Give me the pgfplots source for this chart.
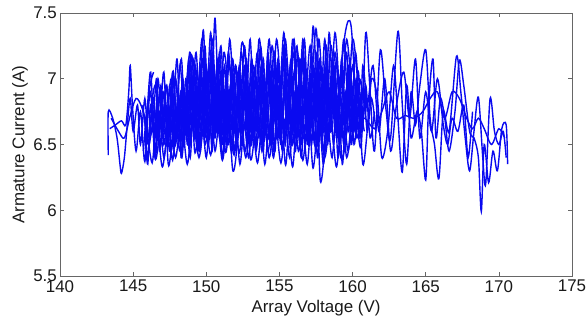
\documentclass[border=0pt]{standalone}
\usepackage{fontspec}
\setmainfont{Liberation Sans}
\usepackage{pgfplots}
\pgfplotsset{compat=1.18}
\definecolor{mblue}{RGB}{10,10,240}
\tikzset{mline/.style={draw=mblue, line width=1.4bp, smooth, tension=0.5, mark=none, solid}}
\begin{document}
\begin{tikzpicture}
\useasboundingbox (-60bp,-46bp) rectangle (527bp,276bp);
\begin{axis}[
 at={(0,0)}, anchor=south west,
 scale only axis, width=512bp, height=263bp,
 xmin=140, xmax=175, ymin=5.5, ymax=7.5,
 xtick={140,145,150,155,160,165,170,175},
 ytick={5.5,6,6.5,7,7.5},
 tick align=inside, major tick length=4bp,
 axis line style={draw=black!60, line width=0.8bp},
 every tick/.style={draw=black!60, line width=0.6bp},
 /pgf/number format/assume math mode=true,
 tick label style={font=\fontsize{17}{17}\selectfont, text=black!90},
 xticklabel style={anchor=north, inner sep=0pt, yshift=-4bp},
 yticklabel style={anchor=east, inner sep=0pt, xshift=-3bp},
 xlabel={Array Voltage (V)}, ylabel={Armature Current (A)},
 label style={font=\fontsize{17}{17}\selectfont, text=black!90, inner sep=0pt},
 xlabel style={at={(axis description cs:0.5,0)}, anchor=base, yshift=-36bp},
 ylabel style={at={(axis description cs:-0.0625,0.5)}, anchor=south},
]
% left sparse part
\addplot[mline] coordinates {(143.3,6.42) (143.3,6.75) (143.6,6.7) (143.9,6.55) (144.1,6.35) (144.2,6.28) (144.4,6.4) (144.6,6.65) (144.8,6.85) (145.0,6.6) (145.3,6.8) (145.5,6.5) (145.8,6.85) (146.0,6.5)};
\addplot[mline] coordinates {(143.4,6.62) (143.8,6.65) (144.2,6.68) (144.5,6.65) (144.7,6.9) (144.8,7.1) (144.95,6.8) (145.2,6.45) (145.5,6.75) (145.8,6.37) (146.1,6.9) (146.4,7.05)};
\addplot[mline] coordinates {(143.5,6.7) (144.0,6.6) (144.4,6.55) (144.8,6.72) (145.2,6.85) (145.6,6.78) (146.0,6.6)};
% dense passes
\addplot[mline] coordinates {(145.8,6.6) (146.0,6.35) (146.2,6.8) (146.5,6.55) (146.7,7.0) (147.0,6.6) (147.2,6.85) (147.5,6.45) (147.7,7.05) (148.0,6.7) (148.3,6.9) (148.5,6.5) (148.8,7.1) (149.1,6.65) (149.3,6.95) (149.6,6.45) (149.9,7.15) (150.1,6.8) (150.4,7.0) (150.6,6.55) (150.9,7.2) (151.2,6.7) (151.4,6.95) (151.7,6.5) (152.0,7.1) (152.3,6.75) (152.5,7.05) (152.8,6.5) (153.1,7.15) (153.4,6.65) (153.6,6.95) (153.9,6.45) (154.2,7.2) (154.4,6.8) (154.7,7.1) (155.0,6.55) (155.3,7.25) (155.5,6.7) (155.8,7.0) (156.1,6.45) (156.4,7.15) (156.6,6.75) (156.9,7.05) (157.2,6.5) (157.5,7.2) (157.8,6.6) (158.0,6.95) (158.3,6.5) (158.6,7.15) (158.9,6.7) (159.1,7.0) (159.4,6.55) (159.7,7.1) (160.0,6.75) (160.3,6.95) (160.6,6.6) (160.9,6.9)};
\addplot[mline] coordinates {(161.0,6.75) (160.7,7.1) (160.5,6.55) (160.2,6.85) (159.9,6.5) (159.6,7.2) (159.3,6.75) (159.0,6.4) (158.8,6.9) (158.5,7.25) (158.2,6.6) (157.9,6.85) (157.6,6.4) (157.3,7.1) (157.0,6.65) (156.8,6.9) (156.5,6.5) (156.2,7.25) (155.9,6.8) (155.7,6.55) (155.4,7.05) (155.1,6.6) (154.9,6.95) (154.6,6.45) (154.3,7.1) (154.0,6.7) (153.8,6.55) (153.5,7.2) (153.2,6.75) (153.0,6.5) (152.7,7.0) (152.4,6.6) (152.2,6.85) (151.9,6.45) (151.6,7.1) (151.3,6.8) (151.1,6.5) (150.8,7.0) (150.5,6.65) (150.3,7.15) (150.0,6.6) (149.8,6.85) (149.5,6.45) (149.2,7.05) (148.9,6.75) (148.7,6.5) (148.4,7.0) (148.1,6.6) (147.9,6.8) (147.6,6.45) (147.3,6.95) (147.0,6.55) (146.8,6.75) (146.5,6.4) (146.2,6.9) (146.0,6.7)};
\addplot[mline] coordinates {(146.1,6.5) (146.4,6.85) (146.6,6.6) (146.9,6.95) (147.1,6.5) (147.4,6.8) (147.6,6.6) (147.9,7.0) (148.2,6.55) (148.4,6.85) (148.7,6.6) (149.0,7.05) (149.2,6.55) (149.5,6.9) (149.7,6.65) (150.0,7.1) (150.2,6.55) (150.5,6.9) (150.7,6.6) (151.0,7.05) (151.3,6.55) (151.5,6.85) (151.8,6.6) (152.1,7.05) (152.3,6.6) (152.6,6.9) (152.9,6.55) (153.2,7.05) (153.4,6.6) (153.7,6.9) (154.0,6.55) (154.2,7.1) (154.5,6.6) (154.8,6.95) (155.1,6.5) (155.4,7.1) (155.6,6.65) (155.9,6.95) (156.2,6.55) (156.4,7.1) (156.7,6.6) (157.0,6.95) (157.3,6.55) (157.5,7.05) (157.8,6.6) (158.1,7.1) (158.3,6.55) (158.6,6.9) (158.9,6.6) (159.2,7.05) (159.5,6.65) (159.8,6.9) (160.1,6.6) (160.4,6.95)};
\addplot[mline] coordinates {(160.5,6.7) (160.2,7.2) (159.9,6.6) (159.6,6.85) (159.3,6.35) (159.0,7.0) (158.7,6.7) (158.4,7.35) (158.1,6.5) (157.8,6.22) (157.6,6.8) (157.3,7.4) (157.0,6.6) (156.8,7.0) (156.5,6.4) (156.2,6.9) (155.9,7.3) (155.6,6.6) (155.4,6.35) (155.1,6.9) (154.8,7.3) (154.5,6.75) (154.2,6.45) (153.9,6.95) (153.6,7.3) (153.3,6.6) (153.0,6.4) (152.7,7.1) (152.4,7.25) (152.1,6.5) (151.8,6.31) (151.5,6.9) (151.2,7.2) (150.9,6.7) (150.6,7.46) (150.4,6.9) (150.1,6.5) (149.8,7.37) (149.5,6.7) (149.2,6.45) (148.9,7.2) (148.6,6.8) (148.3,6.4) (148.0,7.15) (147.7,6.6) (147.4,6.35) (147.1,7.05) (146.8,6.6) (146.5,6.4) (146.2,7.05) (145.9,6.7) (145.6,6.8)};
\addplot[mline] coordinates {(145.7,6.75) (146.0,6.55) (146.3,6.75) (146.5,6.45) (146.8,6.9) (147.0,6.7) (147.3,6.55) (147.5,6.95) (147.8,6.5) (148.1,6.8) (148.3,6.4) (148.6,7.0) (148.9,6.55) (149.1,6.85) (149.4,6.5) (149.6,7.1) (149.9,6.55) (150.2,6.9) (150.4,6.45) (150.7,7.05) (151.0,6.6) (151.2,6.9) (151.5,6.5) (151.8,7.05) (152.0,6.65) (152.3,6.45) (152.6,7.1) (152.8,6.7) (153.1,6.5) (153.4,7.0) (153.6,6.55) (153.9,7.15) (154.1,6.6) (154.4,6.9) (154.7,6.45) (154.9,7.05) (155.2,6.65) (155.5,7.15) (155.8,6.5) (156.0,6.9) (156.3,6.6) (156.6,7.2) (156.9,6.5) (157.1,6.85) (157.4,6.55) (157.7,7.05) (157.9,6.5) (158.2,6.95) (158.5,6.65) (158.8,7.1) (159.0,6.55) (159.3,6.8) (159.6,6.6) (159.9,7.0) (160.2,6.6) (160.5,6.85)};
\addplot[mline] coordinates {(160.8,6.6) (160.4,6.8) (160.1,6.5) (159.8,7.0) (159.5,6.85) (159.2,6.6) (158.9,7.15) (158.6,6.6) (158.3,6.85) (158.0,6.45) (157.7,6.95) (157.4,6.7) (157.2,7.2) (156.9,6.75) (156.6,6.55) (156.3,6.95) (156.0,6.6) (155.8,7.15) (155.5,6.75) (155.2,6.5) (154.9,6.9) (154.6,7.2) (154.3,6.55) (154.1,6.8) (153.8,6.45) (153.5,6.85) (153.2,7.1) (152.9,6.65) (152.6,6.45) (152.4,6.95) (152.1,6.7) (151.8,7.15) (151.5,6.6) (151.3,6.45) (151.0,6.9) (150.7,6.6) (150.4,7.2) (150.2,6.75) (149.9,6.5) (149.6,6.95) (149.4,6.6) (149.1,7.15) (148.8,6.6) (148.5,6.85) (148.2,6.45) (147.9,6.75) (147.7,7.05) (147.4,6.6) (147.1,6.75) (146.8,6.45) (146.6,7.0) (146.3,6.6) (146.0,6.8) (145.7,6.45)};
\addplot[mline] coordinates {(146.4,6.8) (146.7,6.55) (147.0,6.9) (147.3,6.7) (147.6,7.0) (147.9,6.6) (148.2,7.1) (148.5,6.75) (148.8,7.15) (149.0,6.8) (149.3,7.2) (149.6,6.7) (149.9,7.25) (150.1,6.85) (150.4,7.3) (150.7,6.8) (150.9,7.1) (151.2,6.65) (151.5,7.2) (151.8,6.85) (152.0,7.1) (152.3,6.7) (152.6,7.25) (152.9,6.85) (153.1,7.15) (153.4,6.75) (153.7,7.25) (154.0,6.9) (154.3,7.3) (154.6,6.8) (154.9,7.15) (155.1,6.85) (155.4,7.3) (155.7,6.9) (156.0,7.2) (156.3,6.8) (156.6,7.3) (156.8,6.9) (157.1,7.25) (157.4,6.8) (157.7,7.3) (158.0,6.85) (158.2,7.25) (158.5,6.8) (158.8,7.2) (159.1,6.9) (159.4,7.3) (159.7,6.8) (160.0,7.1) (160.3,6.75)};
\addplot[mline] coordinates {(160.3,6.55) (160.0,6.8) (159.7,6.45) (159.4,6.7) (159.1,6.5) (158.9,6.75) (158.6,6.4) (158.3,6.65) (158.0,6.35) (157.7,6.75) (157.5,6.45) (157.2,6.7) (156.9,6.35) (156.6,6.65) (156.3,6.45) (156.0,6.75) (155.7,6.4) (155.4,6.7) (155.2,6.45) (154.9,6.75) (154.6,6.4) (154.3,6.65) (154.0,6.35) (153.7,6.7) (153.4,6.45) (153.2,6.75) (152.9,6.4) (152.6,6.65) (152.3,6.35) (152.0,6.7) (151.7,6.45) (151.4,6.75) (151.1,6.4) (150.9,6.7) (150.6,6.45) (150.3,6.75) (150.0,6.4) (149.7,6.7) (149.4,6.45) (149.1,6.75) (148.9,6.4) (148.6,6.7) (148.3,6.45) (148.0,6.7) (147.7,6.38) (147.4,6.65) (147.1,6.4) (146.8,6.7) (146.5,6.45) (146.3,6.75) (146.0,6.4) (145.8,6.7)};
\addplot[mline] coordinates {(146.2,6.75) (146.5,6.95) (146.8,6.7) (147.1,6.9) (147.3,6.65) (147.6,6.85) (147.9,7.0) (148.2,6.7) (148.4,6.95) (148.7,6.65) (149.0,6.95) (149.3,6.7) (149.5,7.0) (149.8,6.75) (150.1,7.05) (150.3,6.7) (150.6,7.0) (150.9,6.75) (151.1,7.05) (151.4,6.7) (151.7,6.95) (152.0,6.7) (152.2,7.05) (152.5,6.75) (152.8,7.0) (153.0,6.7) (153.3,7.05) (153.6,6.8) (153.8,7.05) (154.1,6.75) (154.4,7.05) (154.7,6.7) (154.9,7.1) (155.2,6.75) (155.5,7.0) (155.8,6.7) (156.0,7.05) (156.3,6.75) (156.6,7.1) (156.9,6.7) (157.1,7.0) (157.4,6.75) (157.7,7.05) (157.9,6.7) (158.2,7.0) (158.5,6.75) (158.7,7.05) (159.0,6.7) (159.3,7.0) (159.6,6.7) (159.9,6.95) (160.2,6.7) (160.6,6.9)};
\addplot[mline] coordinates {(160.6,6.75) (160.3,6.55) (160.0,6.85) (159.7,6.6) (159.5,6.9) (159.2,6.55) (158.9,6.85) (158.7,6.5) (158.4,6.9) (158.1,6.6) (157.8,6.85) (157.6,6.5) (157.3,6.8) (157.0,6.5) (156.8,6.9) (156.5,6.6) (156.2,6.85) (155.9,6.5) (155.6,6.9) (155.4,6.55) (155.1,6.8) (154.8,6.55) (154.6,6.9) (154.3,6.6) (154.0,6.85) (153.8,6.5) (153.5,6.8) (153.2,6.55) (152.9,6.9) (152.7,6.6) (152.4,6.8) (152.1,6.5) (151.9,6.85) (151.6,6.6) (151.3,6.85) (151.0,6.5) (150.8,6.8) (150.5,6.55) (150.2,6.85) (150.0,6.6) (149.7,6.8) (149.4,6.55) (149.2,6.85) (148.9,6.5) (148.6,6.8) (148.4,6.55) (148.1,6.85) (147.8,6.5) (147.5,6.75) (147.3,6.5) (147.0,6.8) (146.7,6.55) (146.4,6.65) (146.1,6.5)};
\addplot[mline] coordinates {(148.0,6.8) (148.3,7.15) (148.6,6.6) (149.0,7.18) (149.3,6.7) (149.7,7.3) (150.0,6.8) (150.3,7.35) (150.6,6.75) (151.0,7.25) (151.3,6.6) (151.6,7.3) (152.0,6.7) (152.4,7.2) (152.7,6.75) (153.0,7.3) (153.3,6.65) (153.7,7.2) (154.0,6.6) (154.5,7.25) (154.9,6.7) (155.3,7.35) (155.6,6.75) (156.0,7.3) (156.3,6.65) (156.7,7.3) (157.0,6.7) (157.5,7.38) (157.8,6.75) (158.1,7.3) (158.4,6.7) (158.8,7.35) (159.2,6.8) (159.6,7.3) (160.0,6.8)};
\addplot[mline] coordinates {(160.0,6.7) (159.6,6.4) (159.3,6.75) (158.9,6.33) (158.5,6.7) (158.1,6.4) (157.7,6.7) (157.3,6.32) (157.0,6.75) (156.6,6.38) (156.2,6.7) (155.9,6.33) (155.5,6.7) (155.1,6.36) (154.7,6.7) (154.3,6.4) (153.9,6.75) (153.5,6.36) (153.1,6.7) (152.7,6.4) (152.3,6.75) (151.9,6.42) (151.5,6.7) (151.1,6.38) (150.7,6.75) (150.3,6.42) (149.9,6.7) (149.5,6.4) (149.1,6.7) (148.7,6.35) (148.3,6.7) (147.9,6.4) (147.5,6.7) (147.0,6.33) (146.6,6.7) (146.3,6.36) (145.9,6.65)};
\addplot[mline] coordinates {(147.0,6.6) (147.25,6.95) (147.5,6.7) (147.75,7.05) (148.0,6.55) (148.25,6.9) (148.5,6.65) (148.75,7.05) (149.0,6.6) (149.25,7.1) (149.5,6.75) (149.75,7.15) (150.0,6.7) (150.25,7.1) (150.5,6.6) (150.75,7.15) (151.0,6.75) (151.25,7.1) (151.5,6.6) (151.75,7.0) (152.0,6.55) (152.25,7.1) (152.5,6.7) (152.75,7.15) (153.0,6.6) (153.25,6.95) (153.5,6.6) (153.75,7.1) (154.0,6.7) (154.25,7.15) (154.5,6.55) (154.75,7.0) (155.0,6.7) (155.25,7.15) (155.5,6.6) (155.75,7.1) (156.0,6.75) (156.25,7.2) (156.5,6.65) (156.75,7.1) (157.0,6.55) (157.25,7.0) (157.5,6.7) (157.75,7.15) (158.0,6.6) (158.25,7.05) (158.5,6.6) (158.75,7.0) (159.0,6.65) (159.25,7.15) (159.5,6.6) (159.75,7.05) (160.0,6.6) (160.25,7.0) (160.5,6.65) (160.75,6.95) (161.0,6.6) (161.3,6.85) (161.6,6.6)};
\addplot[mline] coordinates {(161.5,6.75) (161.2,6.55) (160.9,6.95) (160.65,6.6) (160.4,7.05) (160.15,6.7) (159.9,6.55) (159.65,6.95) (159.4,6.5) (159.15,6.85) (158.9,6.55) (158.65,7.0) (158.4,6.6) (158.15,6.9) (157.9,6.55) (157.65,6.95) (157.4,6.5) (157.15,6.9) (156.9,6.6) (156.65,7.0) (156.4,6.5) (156.15,6.85) (155.9,6.6) (155.65,6.95) (155.4,6.5) (155.15,6.85) (154.9,6.55) (154.65,6.95) (154.4,6.5) (154.15,6.9) (153.9,6.6) (153.65,6.95) (153.4,6.5) (153.15,6.85) (152.9,6.55) (152.65,6.95) (152.4,6.5) (152.15,6.9) (151.9,6.6) (151.65,6.95) (151.4,6.5) (151.15,6.85) (150.9,6.55) (150.65,6.95) (150.4,6.5) (150.15,6.9) (149.9,6.6) (149.65,6.9) (149.4,6.5) (149.15,6.85) (148.9,6.55) (148.65,6.9) (148.4,6.5) (148.15,6.8) (147.9,6.5) (147.65,6.85) (147.4,6.55) (147.15,6.8) (146.9,6.5) (146.65,6.8) (146.4,6.55)};
% right sparse part
\addplot[mline] coordinates {(159.0,6.8) (159.5,7.35) (159.9,7.4) (160.3,6.7) (160.6,6.5) (160.9,7.35) (161.2,6.9) (161.5,6.45) (161.9,7.22) (162.3,6.75) (162.6,6.55) (163.1,7.36) (163.4,6.8) (163.7,6.35) (164.0,6.9) (164.3,6.65) (164.6,6.95) (165.0,7.22) (165.3,6.7) (165.6,6.5) (165.9,6.24) (166.2,6.75) (166.6,6.6) (167.1,7.17) (167.4,6.9) (167.7,6.55) (168.0,6.3) (168.3,6.6) (168.6,6.86) (168.9,6.4) (169.1,6.2) (169.4,6.85) (169.7,6.6) (170.0,6.5) (170.3,6.6) (170.5,6.4)};
\addplot[mline] coordinates {(170.6,6.35) (170.5,6.65) (170.2,6.62) (169.9,6.3) (169.6,6.45) (169.3,6.21) (169.0,6.5) (168.8,5.99) (168.6,6.4) (168.3,6.55) (168.0,6.6) (167.6,6.95) (167.3,7.14) (167.0,6.75) (166.6,6.45) (166.3,6.7) (166.0,6.85) (165.7,6.55) (165.5,7.15) (165.2,6.8) (165.0,6.23) (164.7,6.6) (164.4,6.75) (164.0,6.55) (163.7,6.95) (163.4,6.29) (163.1,6.7) (162.8,7.1) (162.4,6.6) (162.0,6.4) (161.7,6.85) (161.3,7.0) (161.0,6.6) (160.7,6.35) (160.4,6.9) (160.0,7.3) (159.6,6.6) (159.2,6.4) (158.8,7.0)};
\addplot[mline] coordinates {(158.5,6.7) (159.2,6.9) (160.0,6.65) (160.8,6.7) (161.5,6.62) (162.0,6.75) (162.5,6.9) (163.0,6.7) (163.6,6.72) (164.2,6.7) (164.8,6.75) (165.3,6.85) (165.8,6.9) (166.3,6.7) (166.8,6.9) (167.3,6.85) (167.8,6.7) (168.2,6.62) (168.6,6.7) (169.0,6.62) (169.5,6.5) (170.0,6.62) (170.4,6.55)};
\addplot[mline] coordinates {(160.5,7.0) (161.0,6.8) (161.4,7.1) (161.8,6.6) (162.2,7.0) (162.6,6.45) (163.0,6.8) (163.5,7.05) (163.9,6.7) (164.3,7.15) (164.6,6.55) (165.0,6.9) (165.4,6.6) (165.8,7.0) (166.2,6.65) (166.5,6.5) (166.8,6.7) (167.2,6.6) (167.6,6.8) (167.9,6.4) (168.2,6.75)};
\end{axis}
\end{tikzpicture}
\end{document}
